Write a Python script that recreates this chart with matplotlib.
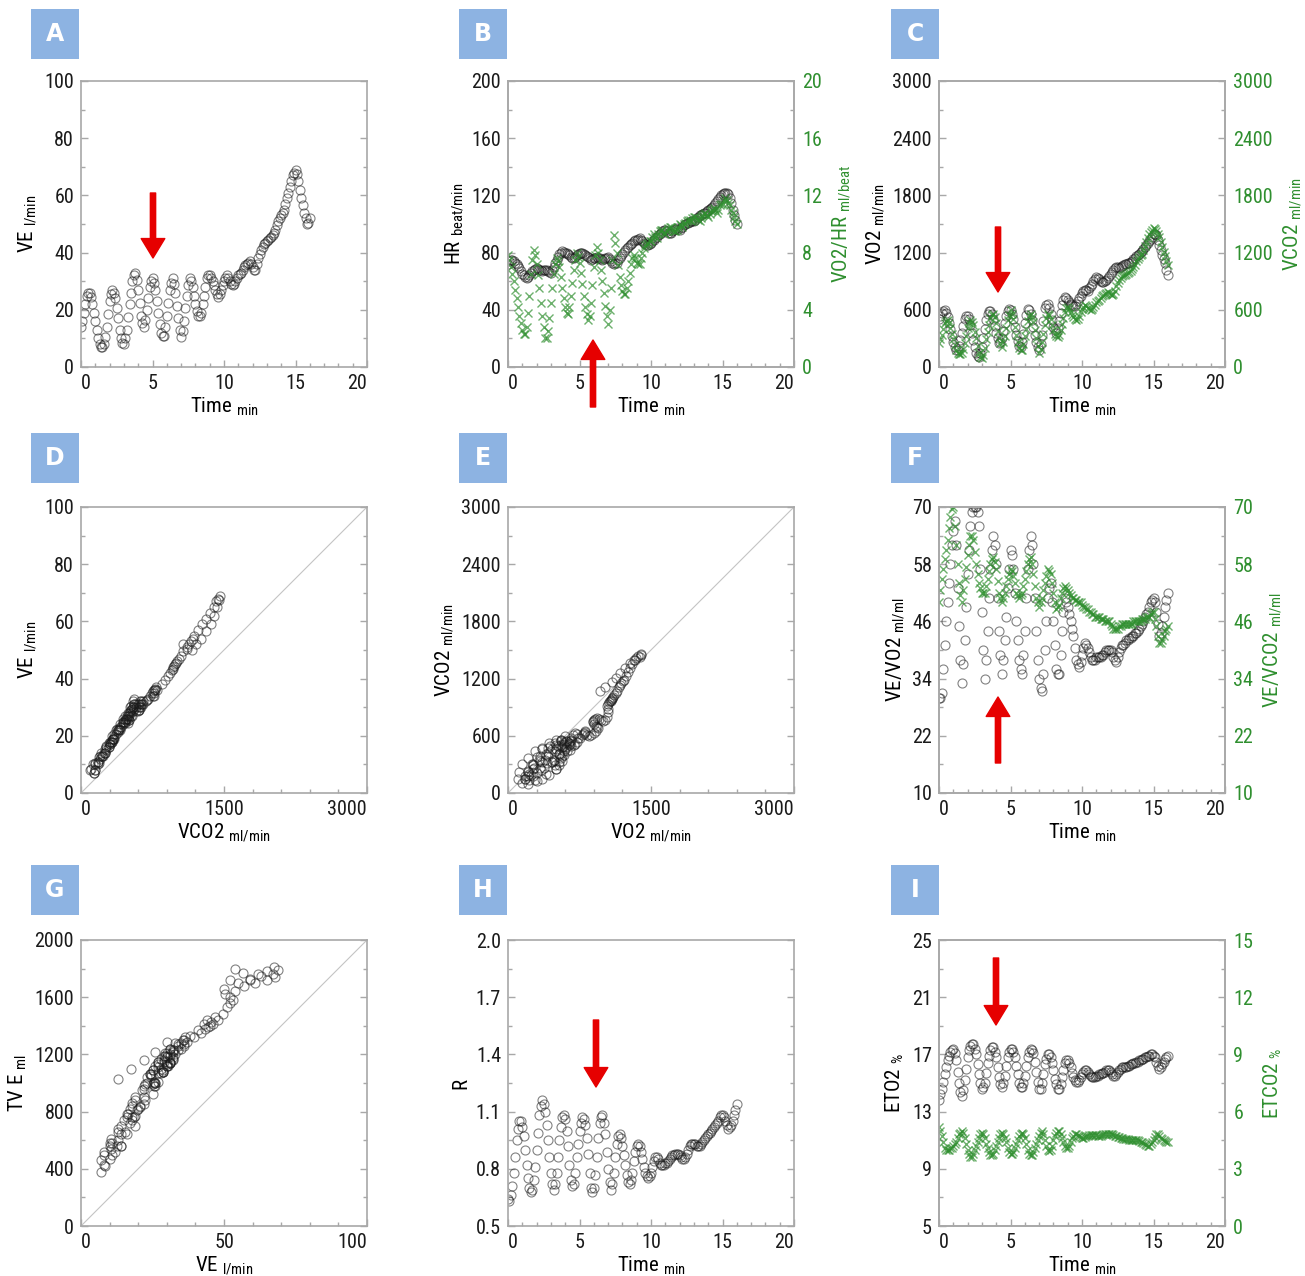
import matplotlib.pyplot as plt
import numpy as np
from matplotlib import font_manager
from matplotlib.patches import Rectangle, FancyArrowPatch

# pick a narrow face if one is installed, the reference uses a condensed gothic
installed = {f.name for f in font_manager.fontManager.ttflist}
if 'Roboto Condensed' in installed:
    FAMILY, TICK_FS, LABEL_FS = 'Roboto Condensed', 14.5, 15
elif 'Liberation Sans Narrow' in installed:
    FAMILY, TICK_FS, LABEL_FS = 'Liberation Sans Narrow', 14, 15
else:
    FAMILY, TICK_FS, LABEL_FS = 'DejaVu Sans', 12, 13
plt.rcParams['font.family'] = [FAMILY, 'DejaVu Sans']

# sample times (min), one breath-averaged point every 6 s
time_min = [0.0, 0.1, 0.2, 0.3, 0.4, 0.5, 0.6, 0.7, 0.8, 0.9,
            1.0, 1.1, 1.2, 1.3, 1.4, 1.5, 1.6, 1.7, 1.8, 1.9,
            2.0, 2.1, 2.2, 2.3, 2.4, 2.5, 2.6, 2.7, 2.8, 2.9,
            3.0, 3.1, 3.2, 3.3, 3.4, 3.5, 3.6, 3.7, 3.8, 3.9,
            4.0, 4.1, 4.2, 4.3, 4.4, 4.5, 4.6, 4.7, 4.8, 4.9,
            5.0, 5.1, 5.2, 5.3, 5.4, 5.5, 5.6, 5.7, 5.8, 5.9,
            6.0, 6.1, 6.2, 6.3, 6.4, 6.5, 6.6, 6.7, 6.8, 6.9,
            7.0, 7.1, 7.2, 7.3, 7.4, 7.5, 7.6, 7.7, 7.8, 7.9,
            8.0, 8.1, 8.2, 8.3, 8.4, 8.5, 8.6, 8.7, 8.8, 8.9,
            9.0, 9.1, 9.2, 9.3, 9.4, 9.5, 9.6, 9.7, 9.8, 9.9,
            10.0, 10.1, 10.2, 10.3, 10.4, 10.5, 10.6, 10.7, 10.8, 10.9,
            11.0, 11.1, 11.2, 11.3, 11.4, 11.5, 11.6, 11.7, 11.8, 11.9,
            12.0, 12.1, 12.2, 12.3, 12.4, 12.5, 12.6, 12.7, 12.8, 12.9,
            13.0, 13.1, 13.2, 13.3, 13.4, 13.5, 13.6, 13.7, 13.8, 13.9,
            14.0, 14.1, 14.2, 14.3, 14.4, 14.5, 14.6, 14.7, 14.8, 14.9,
            15.0, 15.1, 15.2, 15.3, 15.4, 15.5, 15.6, 15.7, 15.8, 15.9,
            16.0]

ve = [14, 16, 19, 22, 25, 26, 26, 24.5, 22, 19,
      16, 13, 10, 8, 7, 7, 8, 10.5, 14, 18.5,
      23, 25.5, 27, 26, 24, 20.5, 17, 13, 10, 8.5,
      8, 10, 13, 17.5, 22, 26, 30, 32, 33, 30.5,
      27, 22.5, 18, 15.5, 14, 16.5, 20, 24, 28, 30,
      31, 29.5, 27, 23, 19, 15, 12, 11, 11, 14,
      18, 22.5, 27, 29.5, 31, 29, 26, 21.5, 17, 13,
      10.5, 12.5, 16, 20.5, 25, 28.5, 31, 30, 28, 25,
      22, 19.5, 18, 18, 19, 22, 25, 28, 31, 32,
      32, 31, 30, 28.5, 27, 25.5, 24.5, 25.5, 27, 28.5,
      30, 31, 32, 31, 30, 29, 28.5, 29, 30, 31,
      32, 32.5, 33, 34, 35, 35.5, 36, 36.5, 37, 36,
      35, 34, 34, 36, 38, 39.5, 41, 42, 43, 43.5,
      44, 44.5, 45, 45.5, 46, 47, 48, 49.5, 51, 52,
      53, 54, 55, 57, 59, 61, 63, 65, 67, 68,
      69, 67.5, 65, 62, 59, 56.5, 54, 52, 50, 50.5,
      52]

hr = [72, 74, 75, 75, 74, 73, 72, 70.5, 69, 67,
      65, 64, 63, 62.5, 63, 64.5, 66, 67, 68, 68.5,
      69, 68.5, 68, 67.5, 67, 67.5, 68, 67.5, 67, 66.5,
      66, 68, 70, 72.5, 75, 77, 79, 80, 81, 80.5,
      80, 79.5, 79, 78, 77, 76.5, 76, 77, 78, 79,
      80, 80, 80, 79, 78, 77.5, 77, 76, 75, 75.5,
      76, 76.5, 77, 76.5, 76, 75.5, 75, 75.5, 76, 76.5,
      77, 75.5, 74, 73, 72, 72.5, 73, 74.5, 76, 77.5,
      79, 80.5, 82, 83, 84, 85, 86, 87, 88, 88.5,
      89, 89.5, 90, 89, 88, 87, 86, 85.5, 85, 86,
      87, 88, 89, 90, 91, 92, 93, 94, 95, 95.5,
      96, 95, 94, 94, 94, 95, 96, 96.5, 97, 96.5,
      96, 97, 98, 99, 100, 100.5, 101, 101.5, 102, 102,
      102, 103, 104, 105, 106, 106.5, 107, 107.5, 108, 109,
      110, 110.5, 111, 112, 113, 114.5, 116, 117.5, 119, 120,
      121, 121.5, 122, 121.5, 121, 118, 115, 110, 106, 103,
      100]

o2_pulse = [7.8, 7.5, 7.0, 6.5, 6.0, 5.4, 4.8, 4.2, 3.6, 3.1,
            2.6, 2.3, 2.3, 2.8, 3.8, 5.0, 6.5, 7.5, 8.2, 7.8,
            7.2, 6.4, 5.5, 4.5, 3.6, 2.8, 2.0, 2.0, 2.5, 3.4,
            4.5, 5.5, 6.5, 7.2, 7.6, 7.4, 7.0, 6.3, 5.5, 4.8,
            4.2, 3.8, 3.7, 4.2, 5.0, 5.9, 6.8, 7.5, 8.0, 7.7,
            7.3, 6.6, 5.8, 5.0, 4.2, 3.7, 3.3, 3.6, 4.5, 5.7,
            7.0, 7.8, 8.4, 8.0, 7.5, 6.8, 6.0, 5.2, 4.3, 3.6,
            3.0, 4.0, 5.5, 7.5, 9.2, 8.7, 8.0, 7.1, 6.3, 5.7,
            5.3, 5.1, 5.1, 5.5, 6.0, 6.6, 7.2, 7.6, 7.8, 7.6,
            7.3, 7.2, 7.2, 7.6, 8.0, 8.3, 8.5, 8.6, 8.7, 8.8,
            8.8, 9.1, 9.3, 9.1, 9.0, 9.3, 9.5, 9.6, 9.6, 9.4,
            9.3, 9.5, 9.7, 9.8, 9.8, 9.6, 9.5, 9.5, 9.6, 9.8,
            10.0, 9.9, 9.8, 10.0, 10.1, 10.2, 10.3, 10.3, 10.2, 10.4,
            10.5, 10.5, 10.4, 10.3, 10.2, 10.4, 10.6, 10.7, 10.8, 10.6,
            10.5, 10.7, 10.9, 11.0, 11.1, 11.0, 10.8, 11.0, 11.3, 11.4,
            11.4, 11.6, 11.8, 11.7, 11.5, 11.3, 11.0, 10.8, 10.5, 10.2,
            10.0]

vo2 = [500, 540, 570, 590, 595, 565, 520, 460, 400, 330,
       260, 210, 180, 180, 220, 280, 360, 430, 500, 530,
       540, 500, 440, 360, 280, 210, 150, 120, 110, 150,
       210, 300, 400, 490, 560, 585, 590, 555, 500, 430,
       360, 300, 250, 260, 300, 380, 460, 530, 590, 605,
       600, 555, 500, 420, 340, 270, 220, 215, 260, 350,
       460, 545, 610, 595, 560, 495, 420, 340, 260, 210,
       180, 240, 340, 480, 620, 650, 660, 615, 560, 490,
       420, 385, 360, 410, 480, 570, 650, 700, 730, 720,
       700, 680, 660, 650, 640, 645, 660, 690, 720, 750,
       780, 800, 810, 805, 800, 825, 850, 875, 900, 920,
       940, 930, 920, 905, 890, 895, 900, 915, 930, 955,
       980, 1000, 1020, 1035, 1050, 1045, 1040, 1050, 1060, 1070,
       1080, 1085, 1090, 1095, 1100, 1115, 1130, 1145, 1160, 1175,
       1190, 1205, 1220, 1240, 1260, 1280, 1300, 1320, 1340, 1365,
       1390, 1395, 1380, 1330, 1280, 1230, 1180, 1130, 1090, 1020,
       960]

vco2 = [250, 290, 340, 400, 460, 485, 490, 460, 410, 350,
        290, 230, 175, 145, 135, 140, 150, 190, 250, 330,
        410, 460, 490, 475, 440, 370, 300, 220, 150, 110,
        90, 130, 200, 290, 370, 440, 510, 545, 560, 520,
        460, 380, 300, 250, 215, 260, 330, 410, 490, 545,
        595, 560, 500, 420, 340, 260, 200, 175, 180, 240,
        320, 400, 480, 530, 560, 525, 470, 390, 300, 220,
        150, 190, 260, 350, 440, 510, 560, 545, 500, 440,
        390, 345, 320, 315, 335, 390, 450, 510, 580, 620,
        630, 610, 580, 550, 520, 500, 490, 505, 540, 580,
        610, 630, 650, 640, 620, 605, 600, 610, 630, 650,
        680, 690, 700, 720, 745, 755, 770, 780, 790, 780,
        770, 760, 765, 800, 845, 880, 910, 930, 950, 960,
        965, 980, 990, 1000, 1010, 1030, 1045, 1075, 1110, 1130,
        1150, 1170, 1190, 1230, 1270, 1310, 1350, 1390, 1420, 1440,
        1460, 1450, 1430, 1400, 1360, 1310, 1260, 1210, 1160, 1110,
        1070]

ve_vo2 = [30, 30, 31, 36, 41, 46, 50, 54, 58, 62,
          65, 67, 62, 53, 45, 38, 33, 37, 42, 49,
          56, 61, 66, 69, 70, 70, 70, 69, 66, 57,
          48, 40, 34, 38, 44, 51, 57, 61, 64, 62,
          58, 51, 44, 39, 35, 38, 42, 47, 53, 57,
          61, 60, 57, 52, 46, 42, 38, 36, 35, 39,
          44, 51, 57, 61, 64, 62, 58, 51, 44, 38,
          34, 32, 31.5, 35, 40, 46, 51, 53, 54, 50,
          46, 41, 36, 35, 35, 39, 44, 48, 51, 50,
          49, 47.5, 46, 44.5, 43, 40.5, 38, 37, 36.5, 37.5,
          39, 40.5, 41.5, 41, 40.5, 39.5, 38.5, 38, 38, 38,
          38.5, 38.5, 38.5, 38.5, 39, 39, 39.5, 40, 40, 40,
          40, 39.5, 38.5, 38, 37.5, 38.5, 39.5, 40.5, 41, 41,
          41.5, 42, 42, 42.5, 42.5, 43, 43, 43.5, 43.5, 44,
          44.5, 45, 45.5, 46, 47, 47.5, 48, 49, 50, 50.5,
          51, 50, 48, 45.5, 43, 43.5, 45, 47, 49, 50.5,
          52]

ve_vco2 = [50, 52.5, 55, 57, 59, 61, 63, 65.5, 68, 69.5,
           70, 66, 62, 58, 54, 51.5, 50, 52.5, 55, 57.5,
           60, 62, 64, 64, 63, 60.5, 58, 56, 54, 53,
           52, 52, 52, 53.5, 55, 56.5, 58, 59, 59.5, 58.5,
           57, 54.5, 52, 51, 50, 51, 52, 53.5, 55, 56,
           57, 56.5, 55.5, 54, 52, 51.5, 51, 51.5, 52, 53.5,
           55, 56.5, 58, 59, 59.5, 58, 56, 53.5, 51, 50,
           49, 50, 51, 52.5, 54, 55.5, 57, 56.5, 56, 54,
           52, 50, 48.5, 49, 49.5, 51, 52, 53, 53.5, 53,
           52.5, 52, 51.5, 51, 51, 50.5, 50.5, 50, 50, 50,
           49.5, 49, 49, 48.5, 48.5, 48, 48, 47.5, 47.5, 47,
           47, 47, 47, 46.5, 46.5, 46.5, 46, 46, 46, 46,
           45.5, 45, 44.5, 44.5, 44.5, 44.5, 45, 45, 45.5, 45.5,
           45.5, 45.5, 45.5, 45.5, 45.5, 45.5, 46, 46, 46, 46,
           46, 46, 46.5, 46.5, 46.5, 47, 47, 47, 47.5, 48,
           48, 46.5, 45, 43, 41.5, 41.5, 42, 43, 44, 44.5,
           45]

tv = [560, 760, 700, 960, 920, 1120, 980, 1060, 850, 900,
      640, 680, 470, 520, 380, 460, 430, 610, 560, 760,
      1040, 980, 1150, 1000, 1060, 840, 820, 600, 580, 420,
      500, 560, 1030, 1100, 1160, 1220, 1290, 1180, 1280, 1120,
      1150, 880, 860, 660, 640, 780, 820, 1060, 1070, 1210,
      1140, 1190, 1010, 1000, 770, 740, 520, 580, 500, 700,
      740, 990, 1070, 1210, 1150, 1190, 1000, 950, 720, 660,
      540, 560, 780, 830, 1090, 1080, 1240, 1120, 1170, 990,
      980, 810, 840, 760, 880, 900, 1090, 1100, 1240, 1170,
      1230, 1140, 1190, 1090, 1130, 1010, 1050, 1000, 1110, 1080,
      1180, 1140, 1220, 1190, 1120, 1150, 1080, 1160, 1130, 1200,
      1160, 1230, 1200, 1260, 1240, 1300, 1270, 1320, 1290, 1260,
      1280, 1230, 1270, 1300, 1330, 1320, 1370, 1350, 1410, 1380,
      1440, 1390, 1400, 1430, 1410, 1460, 1440, 1480, 1530, 1560,
      1580, 1640, 1700, 1680, 1720, 1700, 1750, 1720, 1760, 1740,
      1790, 1810, 1780, 1760, 1730, 1770, 1800, 1720, 1660, 1620,
      1600]

r_ratio = [0.64, 0.63, 0.66, 0.71, 0.78, 0.86, 0.95, 1.01, 1.05, 1.05,
           1.02, 0.97, 0.90, 0.82, 0.75, 0.70, 0.68, 0.69, 0.74, 0.81,
           0.90, 0.99, 1.08, 1.13, 1.16, 1.14, 1.10, 1.03, 0.95, 0.86,
           0.78, 0.72, 0.69, 0.72, 0.78, 0.86, 0.95, 1.02, 1.07, 1.08,
           1.06, 1.00, 0.92, 0.82, 0.74, 0.71, 0.72, 0.78, 0.86, 0.93,
           1.00, 1.04, 1.07, 1.06, 1.03, 0.96, 0.88, 0.78, 0.70, 0.68,
           0.70, 0.77, 0.86, 0.96, 1.04, 1.07, 1.08, 1.04, 0.98, 0.89,
           0.80, 0.73, 0.69, 0.72, 0.78, 0.86, 0.93, 0.97, 0.98, 0.96,
           0.92, 0.87, 0.82, 0.77, 0.73, 0.72, 0.74, 0.78, 0.84, 0.89,
           0.92, 0.93, 0.92, 0.89, 0.85, 0.81, 0.78, 0.76, 0.75, 0.76,
           0.78, 0.81, 0.84, 0.86, 0.86, 0.85, 0.83, 0.82, 0.82, 0.82,
           0.83, 0.83, 0.84, 0.85, 0.86, 0.87, 0.87, 0.88, 0.88, 0.88,
           0.87, 0.86, 0.85, 0.85, 0.86, 0.88, 0.90, 0.92, 0.93, 0.93,
           0.93, 0.93, 0.92, 0.92, 0.92, 0.93, 0.94, 0.95, 0.96, 0.97,
           0.98, 0.99, 1.00, 1.01, 1.02, 1.03, 1.04, 1.05, 1.07, 1.08,
           1.08, 1.07, 1.05, 1.03, 1.01, 1.02, 1.03, 1.05, 1.08, 1.11,
           1.14]

eto2 = [13.8, 14.2, 14.6, 15.1, 15.6, 16.1, 16.6, 16.9, 17.2, 17.3,
        17.4, 17.1, 16.6, 15.8, 15.0, 14.4, 14.1, 14.5, 15.2, 16.0,
        16.8, 17.3, 17.6, 17.7, 17.7, 17.4, 17.0, 16.3, 15.6, 15.0,
        14.6, 14.7, 15.0, 15.7, 16.4, 16.9, 17.3, 17.5, 17.5, 17.2,
        16.8, 16.1, 15.4, 14.9, 14.7, 15.0, 15.5, 16.2, 16.8, 17.2,
        17.4, 17.4, 17.2, 16.8, 16.2, 15.6, 15.0, 14.7, 14.7, 15.0,
        15.5, 16.2, 16.8, 17.2, 17.4, 17.3, 17.1, 16.5, 15.8, 15.1,
        14.6, 14.6, 15.0, 15.6, 16.3, 16.7, 17.0, 17.0, 16.8, 16.4,
        15.9, 15.3, 14.9, 14.6, 14.6, 14.9, 15.4, 15.9, 16.4, 16.6,
        16.6, 16.4, 16.1, 15.7, 15.4, 15.2, 15.1, 15.1, 15.2, 15.4,
        15.6, 15.8, 15.9, 15.9, 15.8, 15.6, 15.5, 15.4, 15.4, 15.4,
        15.5, 15.5, 15.6, 15.6, 15.7, 15.7, 15.8, 15.9, 15.9, 15.9,
        15.8, 15.6, 15.5, 15.5, 15.6, 15.8, 15.9, 16.0, 16.1, 16.1,
        16.1, 16.1, 16.2, 16.2, 16.3, 16.3, 16.4, 16.4, 16.5, 16.5,
        16.6, 16.6, 16.7, 16.7, 16.8, 16.8, 16.9, 16.9, 17.0, 17.0,
        16.9, 16.8, 16.5, 16.2, 16.0, 16.1, 16.3, 16.5, 16.7, 16.8,
        16.9]

etco2 = [5.2, 5.0, 4.7, 4.4, 4.1, 4.0, 4.0, 4.0, 4.1, 4.1,
         4.2, 4.3, 4.4, 4.6, 4.8, 4.9, 5.0, 4.9, 4.6, 4.3,
         4.0, 3.8, 3.6, 3.6, 3.8, 4.0, 4.2, 4.4, 4.6, 4.8,
         4.9, 4.8, 4.6, 4.3, 4.1, 3.9, 3.7, 3.7, 3.8, 4.0,
         4.2, 4.4, 4.6, 4.8, 4.9, 4.8, 4.6, 4.4, 4.1, 3.9,
         3.8, 3.8, 3.9, 4.1, 4.3, 4.5, 4.7, 4.8, 4.9, 4.8,
         4.6, 4.3, 4.0, 3.8, 3.7, 3.7, 3.9, 4.1, 4.3, 4.5,
         4.7, 4.9, 5.0, 4.8, 4.5, 4.2, 4.0, 3.95, 4.0, 4.2,
         4.5, 4.7, 4.9, 5.0, 5.0, 4.8, 4.6, 4.4, 4.2, 4.1,
         4.1, 4.2, 4.4, 4.6, 4.7, 4.8, 4.8, 4.75, 4.7, 4.65,
         4.6, 4.6, 4.65, 4.7, 4.7, 4.75, 4.75, 4.75, 4.75, 4.75,
         4.75, 4.7, 4.7, 4.7, 4.75, 4.8, 4.8, 4.8, 4.8, 4.8,
         4.8, 4.8, 4.75, 4.7, 4.7, 4.65, 4.65, 4.6, 4.6, 4.55,
         4.55, 4.55, 4.55, 4.5, 4.5, 4.5, 4.5, 4.5, 4.5, 4.5,
         4.45, 4.4, 4.4, 4.35, 4.3, 4.25, 4.2, 4.2, 4.3, 4.4,
         4.5, 4.65, 4.8, 4.8, 4.7, 4.6, 4.55, 4.5, 4.45, 4.4,
         4.4]

panel_letters = ['A', 'B', 'C', 'D', 'E', 'F', 'G', 'H', 'I']

W, H = 1305, 1276
GREEN = '#2f8f2f'
SPINE = '#a8a8a8'

fig = plt.figure(figsize=(W / 100, H / 100), dpi=100)


def rect(left, top, w, h):
    return [left / W, 1 - (top + h) / H, w / W, h / H]


def circles(ax, x, y):
    ax.plot(x, y, 'o', ms=6.5, mfc='none', mec='#1a1a1a', mew=0.8, alpha=0.55)


def crosses(ax, x, y):
    ax.plot(x, y, 'x', ms=6, color=GREEN, mew=1.0, alpha=0.7)


def style(ax, xlim, xticks, xminor, ylim, yticks, yminor, ylabels=None, right=True):
    ax.set_xlim(xlim)
    ax.set_ylim(ylim)
    ax.set_xticks(xticks)
    xl = ax.set_xticklabels([str(v) for v in xticks])
    xl[0].set_ha('left')
    xl[-1].set_ha('right')
    ax.set_xticks(xminor, minor=True)
    ax.set_yticks(yticks)
    ax.set_yticklabels(ylabels if ylabels else [str(v) for v in yticks])
    ax.set_yticks(yminor, minor=True)
    for s in ax.spines.values():
        s.set_color(SPINE)
        s.set_linewidth(1.2)
    ax.tick_params(which='both', direction='in', color=SPINE, labelcolor='#1a1a1a',
                   top=False, right=right, labelsize=TICK_FS)
    ax.tick_params(which='major', length=5, width=1, pad=5)
    ax.tick_params(which='minor', length=3, width=1)


def right_axis(ax, ylim, yticks, yminor, label):
    ax2 = ax.twinx()
    ax2.set_ylim(ylim)
    ax2.set_yticks(yticks)
    ax2.set_yticks(yminor, minor=True)
    ax2.tick_params(which='both', direction='in', color=SPINE, labelcolor=GREEN,
                    labelsize=TICK_FS)
    ax2.tick_params(which='major', length=5, width=1, pad=6)
    ax2.tick_params(which='minor', length=3, width=1)
    for s in ax2.spines.values():
        s.set_color(SPINE)
        s.set_linewidth(1.2)
    ax2.set_ylabel(label, fontsize=LABEL_FS, color=GREEN, labelpad=6)
    return ax2


def unit(name, u):
    return name + r' $\mathregular{_{' + u + r'}}$'


def labels(ax, xlab, ylab):
    ax.set_xlabel(xlab, fontsize=LABEL_FS, labelpad=2)
    ax.set_ylabel(ylab, fontsize=LABEL_FS, labelpad=4)


TIME_LABEL = unit('Time', 'min')
tx = [0, 5, 10, 15, 20]
tminor = list(range(0, 21))

cols = [81, 508, 939]
rows = [81, 507, 940]
S = 286

axes = []
for r in rows:
    for c in cols:
        axes.append(fig.add_axes(rect(c, r, S, S)))

# A: VE vs time
ax = axes[0]
circles(ax, time_min, ve)
style(ax, (0, 20), tx, tminor, (0, 100), [0, 20, 40, 60, 80, 100], list(range(0, 101, 10)))
labels(ax, TIME_LABEL, unit('VE', 'l/min'))

# B: HR and VO2/HR
ax = axes[1]
circles(ax, time_min, hr)
style(ax, (0, 20), tx, tminor, (0, 200), [0, 40, 80, 120, 160, 200], list(range(0, 201, 20)), right=False)
labels(ax, TIME_LABEL, unit('HR', 'beat/min'))
ax2 = right_axis(ax, (0, 20), [0, 4, 8, 12, 16, 20], list(range(0, 21, 2)), unit('VO2/HR', 'ml/beat'))
crosses(ax2, time_min, o2_pulse)

# C: VO2 and VCO2
ax = axes[2]
circles(ax, time_min, vo2)
style(ax, (0, 20), tx, tminor, (0, 3000), [0, 600, 1200, 1800, 2400, 3000], list(range(0, 3001, 300)), right=False)
labels(ax, TIME_LABEL, unit('VO2', 'ml/min'))
ax2 = right_axis(ax, (0, 3000), [0, 600, 1200, 1800, 2400, 3000], list(range(0, 3001, 300)), unit('VCO2', 'ml/min'))
crosses(ax2, time_min, vco2)

# D: VE vs VCO2
ax = axes[3]
ax.plot([0, 1], [0, 1], transform=ax.transAxes, color='#c4c4c4', lw=0.8)
circles(ax, vco2, ve)
style(ax, (0, 3000), [0, 1500, 3000], list(range(0, 3001, 300)), (0, 100), [0, 20, 40, 60, 80, 100], list(range(0, 101, 10)))
labels(ax, unit('VCO2', 'ml/min'), unit('VE', 'l/min'))

# E: VCO2 vs VO2
ax = axes[4]
ax.plot([0, 1], [0, 1], transform=ax.transAxes, color='#c4c4c4', lw=0.8)
circles(ax, vo2, vco2)
style(ax, (0, 3000), [0, 1500, 3000], list(range(0, 3001, 300)), (0, 3000), [0, 600, 1200, 1800, 2400, 3000], list(range(0, 3001, 300)))
labels(ax, unit('VO2', 'ml/min'), unit('VCO2', 'ml/min'))

# F: VE/VO2 and VE/VCO2
ax = axes[5]
circles(ax, time_min, ve_vo2)
style(ax, (0, 20), tx, tminor, (10, 70), [10, 22, 34, 46, 58, 70], list(range(10, 71, 6)), right=False)
labels(ax, TIME_LABEL, unit('VE/VO2', 'ml/ml'))
ax2 = right_axis(ax, (10, 70), [10, 22, 34, 46, 58, 70], list(range(10, 71, 6)), unit('VE/VCO2', 'ml/ml'))
crosses(ax2, time_min, ve_vco2)

# G: TV vs VE
ax = axes[6]
ax.plot([0, 1], [0, 1], transform=ax.transAxes, color='#c4c4c4', lw=0.8)
circles(ax, ve, tv)
style(ax, (0, 100), [0, 50, 100], list(range(0, 101, 10)), (0, 2000), [0, 400, 800, 1200, 1600, 2000], list(range(0, 2001, 200)))
labels(ax, unit('VE', 'l/min'), unit('TV E', 'ml'))

# H: R
ax = axes[7]
circles(ax, time_min, r_ratio)
r_ticks = [0.5, 0.8, 1.1, 1.4, 1.7, 2.0]
style(ax, (0, 20), tx, tminor, (0.5, 2.0), r_ticks, [0.5 + 0.15 * k for k in range(11)],
      ylabels=['%.1f' % v for v in r_ticks])
labels(ax, TIME_LABEL, 'R')

# I: ETO2 and ETCO2
ax = axes[8]
circles(ax, time_min, eto2)
style(ax, (0, 20), tx, tminor, (5, 25), [5, 9, 13, 17, 21, 25], list(range(5, 26, 2)), right=False)
labels(ax, TIME_LABEL, unit('ETO2', r'\%'))
ax2 = right_axis(ax, (0, 15), [0, 3, 6, 9, 12, 15], [k * 1.5 for k in range(11)], unit('ETCO2', r'\%'))
crosses(ax2, time_min, etco2)

# panel letter boxes
box_lefts = [31, 459, 891]
box_tops = [9, 433, 865]
k = 0
for bt in box_tops:
    for bl in box_lefts:
        fig.patches.append(Rectangle((bl / W, 1 - (bt + 50) / H), 48 / W, 50 / H,
                                     transform=fig.transFigure, facecolor='#8db3e2',
                                     edgecolor='none', zorder=5))
        fig.text((bl + 24) / W, 1 - (bt + 25) / H, panel_letters[k], color='white',
                 fontsize=17, fontweight='bold', ha='center', va='center',
                 family='DejaVu Sans', zorder=6)
        k += 1

# red arrows (x, start y, tip y) in image pixels
arrows = [(153, 193, 258), (593, 407, 340), (998, 227, 292),
          (998, 763, 697), (596, 1020, 1087), (996, 958, 1025)]
for ax_x, y0, y1 in arrows:
    fig.patches.append(FancyArrowPatch((ax_x / W, 1 - y0 / H), (ax_x / W, 1 - y1 / H),
                                       transform=fig.transFigure,
                                       arrowstyle='simple,head_length=1.4,head_width=1.7,tail_width=0.38',
                                       mutation_scale=10, color='#e60000',
                                       shrinkA=0, shrinkB=0, zorder=7))

fig.savefig('out.png', dpi=100)
